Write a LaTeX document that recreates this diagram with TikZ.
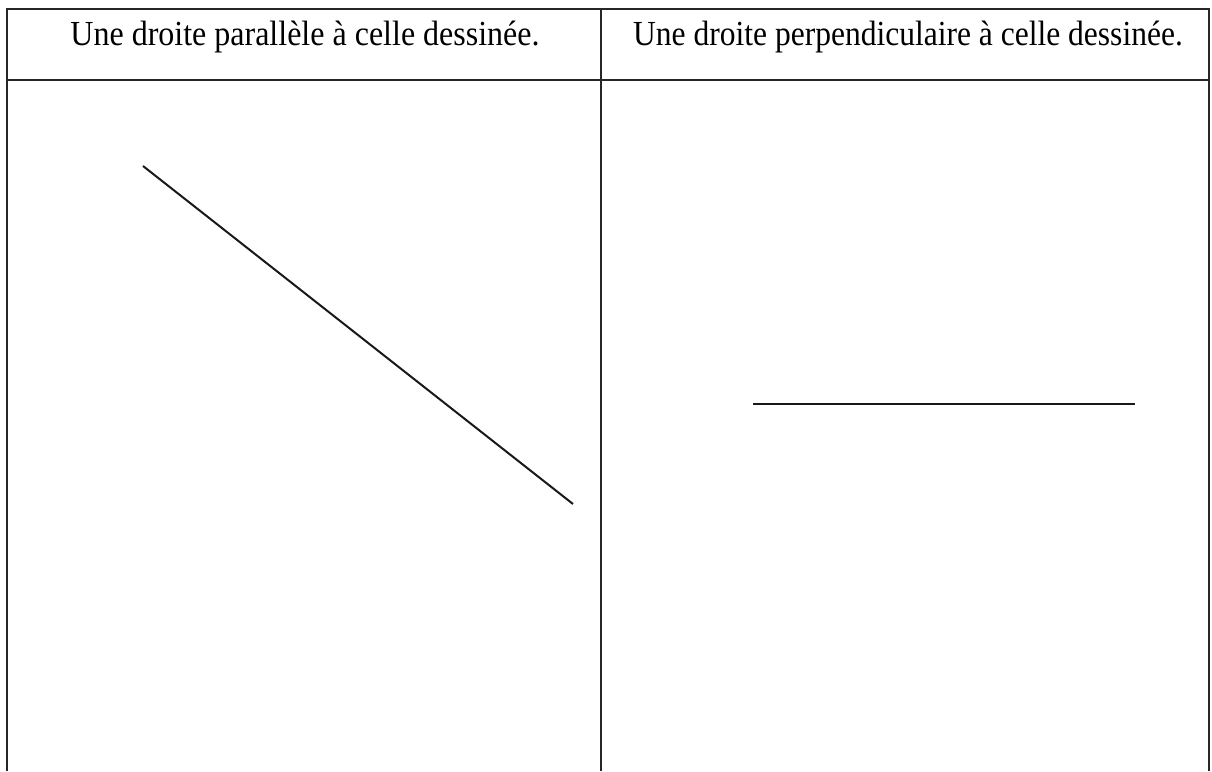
\documentclass[tikz,border=0pt]{standalone}
\usepackage{fontspec}
\setmainfont{Liberation Serif}
\begin{document}
\begin{tikzpicture}[x=1pt,y=-1pt,
  frame/.style={line width=1.6pt,draw=black!85},
  seg/.style={line width=2pt,draw=black!90},
  head/.style={anchor=base,font=\fontsize{32}{38}\selectfont,inner sep=0pt,yscale=1.1}]
\useasboundingbox[fill=white] (0,0) rectangle (1212,771);
\coordinate (tl) at (7,9);
\coordinate (tr) at (1209,9);
\coordinate (bl) at (7,771);
\coordinate (br) at (1209,771);
\coordinate (mt) at (601,9);
\coordinate (mb) at (601,771);
\coordinate (hl) at (7,80);
\coordinate (hr) at (1209,80);
\draw[frame] (bl) -- (tl) -- (tr) -- (br);
\draw[frame] (mt) -- (mb);
\draw[frame] (hl) -- (hr);
\node[head] (h1) at (305,45) {Une droite parallèle à celle dessinée.};
\node[head,xscale=0.985] (h2) at (908,45) {Une droite perpendiculaire à celle dessinée.};
\coordinate (a1) at (143,166);
\coordinate (a2) at (573,504);
\coordinate (b1) at (753,404);
\coordinate (b2) at (1135,404);
\draw[seg] (a1) -- (a2);
\draw[seg] (b1) -- (b2);
\end{tikzpicture}
\end{document}
